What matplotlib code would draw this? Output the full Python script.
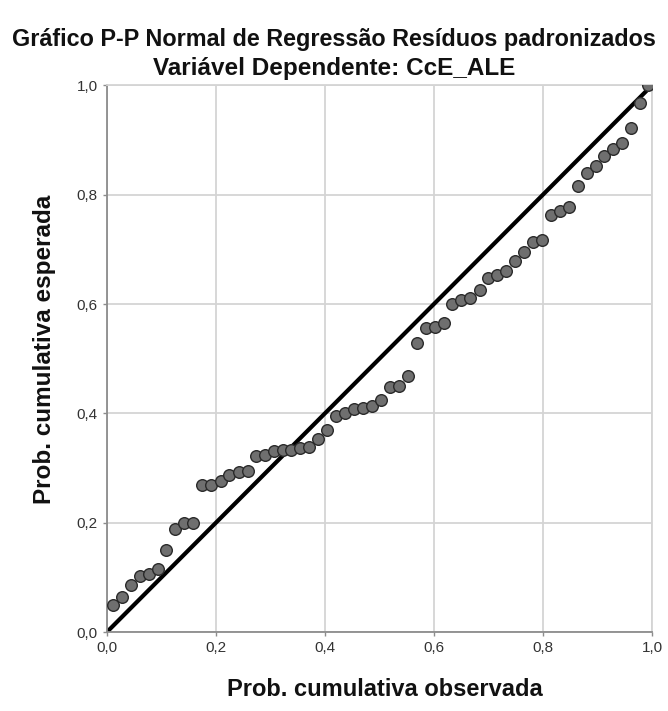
import matplotlib.pyplot as plt
from matplotlib.ticker import FuncFormatter

# observed cumulative probability (x) and expected cumulative probability (y)
obs_prob = [0.0104, 0.0269, 0.0434, 0.0599, 0.0764, 0.0929, 0.1093, 0.1258, 0.1423, 0.1588,
            0.1753, 0.1910, 0.2088, 0.2244, 0.2418, 0.2582, 0.2742, 0.2899, 0.3064, 0.3229,
            0.3383, 0.3548, 0.3705, 0.3877, 0.4035, 0.4200, 0.4363, 0.4529, 0.4694, 0.4859,
            0.5024, 0.5189, 0.5353, 0.5518, 0.5683, 0.5848, 0.6013, 0.6178, 0.6337, 0.6505,
            0.6667, 0.6837, 0.6996, 0.7161, 0.7326, 0.7496, 0.7661, 0.7821, 0.7985, 0.8150,
            0.8321, 0.8476, 0.8650, 0.8815, 0.8974, 0.9126, 0.9291, 0.9451, 0.9615, 0.9780,
            0.9932]
exp_prob = [0.0488, 0.0641, 0.0865, 0.1024, 0.1060, 0.1162, 0.1497, 0.1880, 0.1989, 0.1989,
            0.2692, 0.2692, 0.2760, 0.2872, 0.2924, 0.2947, 0.3228, 0.3239, 0.3306, 0.3337,
            0.3324, 0.3373, 0.3392, 0.3525, 0.3701, 0.3944, 0.3998, 0.4084, 0.4107, 0.4131,
            0.4240, 0.4485, 0.4495, 0.4685, 0.5279, 0.5559, 0.5588, 0.5650, 0.5996, 0.6066,
            0.6111, 0.6251, 0.6475, 0.6536, 0.6603, 0.6780, 0.6954, 0.7126, 0.7168, 0.7628,
            0.7699, 0.7769, 0.8151, 0.8388, 0.8528, 0.8716, 0.8838, 0.8953, 0.9213, 0.9669,
            1.0]
ticks = [0.0, 0.2, 0.4, 0.6, 0.8, 1.0]

plt.rcParams['font.family'] = ['Liberation Sans', 'DejaVu Sans']

fig = plt.figure(figsize=(6.68, 7.11), dpi=100)
ax = fig.add_axes([0.160, 0.111, 0.816, 0.769])

ax.set_xlim(0, 1)
ax.set_ylim(0, 1)
ax.set_xticks(ticks)
ax.set_yticks(ticks)
fmt = FuncFormatter(lambda v, p: f"{v:.1f}".replace('.', ','))
ax.xaxis.set_major_formatter(fmt)
ax.yaxis.set_major_formatter(fmt)
ax.grid(True, color='#d4d4d4', linewidth=1.3)
ax.set_axisbelow(True)

for s in ['top', 'right']:
    ax.spines[s].set_color('#d4d4d4')
    ax.spines[s].set_linewidth(1.3)
for s in ['left', 'bottom']:
    ax.spines[s].set_color('#8c8c8c')
    ax.spines[s].set_linewidth(1.3)
ax.tick_params(length=3, width=1, color='#8c8c8c', labelsize=11, labelcolor='#333333')

ax.plot([0, 1], [0, 1], color='black', linewidth=3, zorder=2)
ax.scatter(obs_prob, exp_prob, s=70, facecolor='#6f6f6f', edgecolor='#2a2a2a',
           linewidth=1.0, zorder=3)

fig.text(0.5, 0.945, 'Gráfico P-P Normal de Regressão Resíduos padronizados',
         ha='center', va='center', fontsize=16.8, fontweight='bold', color='#111111')
fig.text(0.5, 0.904, 'Variável Dependente: CcE_ALE',
         ha='center', va='center', fontsize=17.5, fontweight='bold', color='#111111')
fig.text(0.576, 0.030, 'Prob. cumulativa observada', ha='center', va='center',
         fontsize=17, fontweight='bold', color='#111111')
fig.text(0.066, 0.509, 'Prob. cumulativa esperada', ha='center', va='center',
         rotation=90, fontsize=17.5, fontweight='bold', color='#111111')

fig.savefig('out.png', dpi=100)
